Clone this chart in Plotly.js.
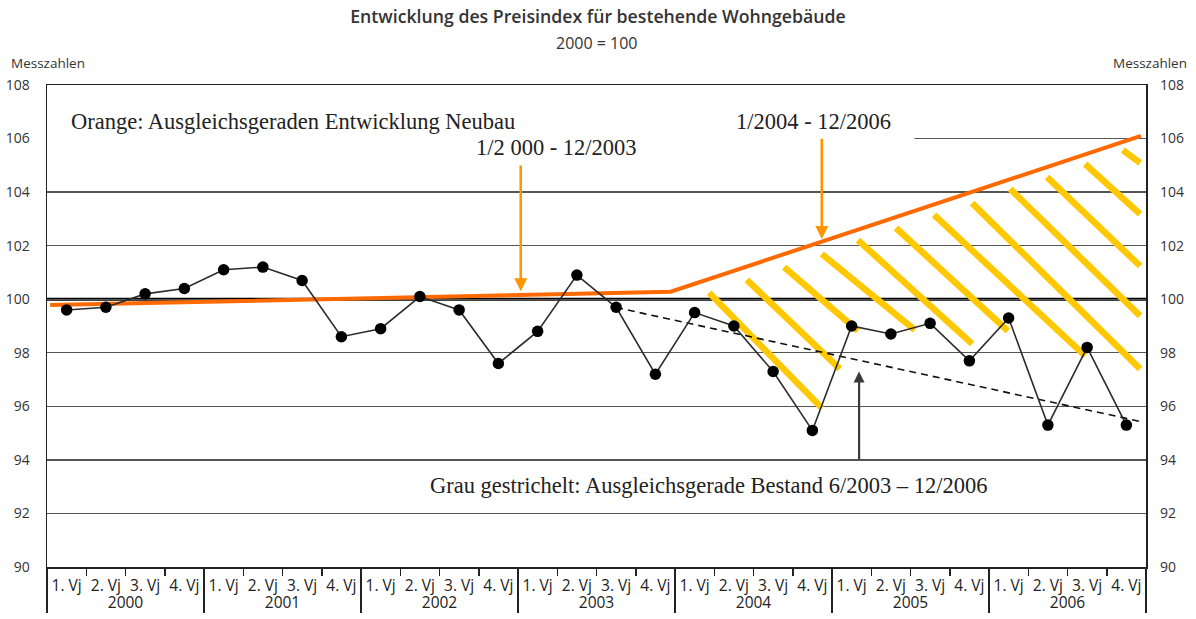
<!DOCTYPE html>
<html>
<head>
<meta charset="utf-8">
<script src="https://cdn.plot.ly/plotly-3.0.1.min.js"></script>
<style>html,body{margin:0;padding:0;background:#fff;}#chart{width:1196px;height:619px;}</style>
</head>
<body>
<div id="chart"></div>
<script>
// ---- data ----
var years = ['2000','2001','2002','2003','2004','2005','2006'];
var quarters = ['1. Vj','2. Vj','3. Vj','4. Vj'];
var preisindex = [
  99.6, 99.7, 100.2, 100.4,
  101.1, 101.2, 100.7, 98.6,
  98.9, 100.1, 99.6, 97.6,
  98.8, 100.9, 99.7, 97.2,
  99.5, 99.0, 97.3, 95.1,
  99.0, 98.7, 99.1, 97.7,
  99.3, 95.3, 98.2, 95.3
];
// orange trend (Neubau), positions in quarter index units
var neubauX = [-0.42, 15.39, 27.37];
var neubauY = [99.78, 100.28, 106.1];
// grey dashed trend (Bestand)
var bestandX = [14, 27.37];
var bestandY = [99.69, 95.43];
// yellow hatch strokes: start (x0,y0) -> end (x1,y1)
var hatchX0 = [16.37, 17.33, 18.28, 19.24, 20.16, 21.13, 22.10, 23.07, 24.04, 24.98, 25.95, 26.91];
var hatchY0 = [100.24, 100.72, 101.20, 101.69, 102.21, 102.66, 103.15, 103.59, 104.12, 104.56, 105.05, 105.57];
var hatchX1 = [19.24, 19.70, 20.16, 21.61, 23.07, 23.98, 25.95, 27.35, 27.35, 27.35, 27.35, 27.35];
var hatchY1 = [95.94, 97.40, 98.82, 98.85, 98.33, 98.82, 97.88, 97.40, 99.38, 101.24, 103.18, 105.09];
var yTicks = [90, 92, 94, 96, 98, 100, 102, 104, 106, 108];

// ---- derived ----
var outer = [], inner = [], pos = [];
years.forEach(function (y, yi) {
  quarters.forEach(function (q, qi) {
    outer.push(y); inner.push(q); pos.push(yi * quarters.length + qi);
  });
});
var hx = [], hy = [];
for (var i = 0; i < hatchX0.length; i++) {
  hx.push(hatchX0[i], hatchX1[i], null);
  hy.push(hatchY0[i], hatchY1[i], null);
}
var xr = [-0.5, pos.length - 0.5];
var yr = [yTicks[0], yTicks[yTicks.length - 1]];

var traces = [
  {x: hx, y: hy, mode: 'lines', line: {color: '#FFC800', width: 6.5}, hoverinfo: 'skip', showlegend: false},
  {x: neubauX, y: neubauY, mode: 'lines', line: {color: '#FF6A00', width: 4}, hoverinfo: 'skip', showlegend: false},
  {x: bestandX, y: bestandY, mode: 'lines', line: {color: '#111', width: 1.6, dash: '7px,5px'}, hoverinfo: 'skip', showlegend: false},
  {x: pos, y: preisindex, mode: 'lines+markers', line: {color: '#2b2b2b', width: 1.6},
   marker: {color: '#000', size: 11.5}, showlegend: false},
  // category axis carrier (labels + right axis)
  {x: [outer, inner], y: preisindex, xaxis: 'x2', yaxis: 'y2', mode: 'markers',
   marker: {opacity: 0}, hoverinfo: 'skip', showlegend: false}
];

var sans = 'Open Sans, sans-serif';
var tickFont = {family: sans, size: 14, color: '#333'};
var serif = {family: 'Liberation Serif, serif', size: 22.5, color: '#222'};

var layout = {
  width: 1196, height: 619,
  margin: {l: 47, r: 50, t: 85, b: 52},
  paper_bgcolor: '#fff', plot_bgcolor: '#fff',
  title: {text: 'Entwicklung des Preisindex für bestehende Wohngebäude',
          font: {family: sans, size: 17.7, color: '#333', weight: 600},
          x: 0.5, xanchor: 'center', y: 1 - 17 / 619, yanchor: 'middle', yref: 'container'},
  xaxis: {type: 'linear', range: xr, showticklabels: false, ticks: '', showgrid: false, zeroline: false,
          showline: true, mirror: true, linecolor: '#222', linewidth: 1.5, fixedrange: true},
  yaxis: {range: yr, tickvals: yTicks, showgrid: true, gridcolor: '#555', gridwidth: 1.3,
          zeroline: false, showline: true, mirror: true, linecolor: '#222', linewidth: 1.5,
          ticks: '', ticklabelstandoff: 13, tickfont: tickFont, fixedrange: true},
  xaxis2: {type: 'multicategory', overlaying: 'x', anchor: 'y2', range: xr, side: 'bottom',
           showgrid: false, zeroline: false, showline: false, tickangle: 0,
           ticks: 'outside', ticklen: 8, tickwidth: 1.5, tickcolor: '#222', ticklabelstandoff: 7,
           showdividers: true, dividercolor: '#222', dividerwidth: 1.5,
           tickfont: {family: sans, size: 15.5, color: '#222'}, fixedrange: true},
  yaxis2: {range: yr, tickvals: yTicks, overlaying: 'y', side: 'right', showgrid: false, zeroline: false,
           showline: false, ticks: '', ticklabelstandoff: 13, tickfont: tickFont, fixedrange: true},
  shapes: [
    {type: 'rect', xref: 'x', yref: 'y', x0: xr[0], x1: 21.6, y0: 105.7, y1: 106.3,
     fillcolor: '#fff', line: {width: 0}, layer: 'between'},
    {type: 'line', xref: 'paper', yref: 'y', x0: 0, x1: 1, y0: 100, y1: 100,
     line: {color: '#000', width: 3}, layer: 'between'}
  ],
  annotations: [
    {xref: 'paper', yref: 'paper', x: 0.5, y: (567 - 43) / 482, text: '2000 = 100', showarrow: false,
     xanchor: 'center', yanchor: 'middle', font: {family: sans, size: 16, color: '#333'}},
    {xref: 'paper', yref: 'paper', x: (9 - 47) / 1099, y: (567 - 63) / 482, text: 'Messzahlen', showarrow: false,
     xanchor: 'left', yanchor: 'middle', font: {family: sans, size: 13.5, color: '#333'}},
    {xref: 'paper', yref: 'paper', x: (1189 - 47) / 1099, y: (567 - 63) / 482, text: 'Messzahlen', showarrow: false,
     xanchor: 'right', yanchor: 'middle', font: {family: sans, size: 13.5, color: '#333'}},
    {xref: 'x', yref: 'y', x: 0.07, y: 106.65, text: 'Orange: Ausgleichsgeraden Entwicklung Neubau',
     showarrow: false, xanchor: 'left', yanchor: 'middle', font: serif},
    {xref: 'x', yref: 'y', x: 12.47, y: 105.65, text: '1/2 000 - 12/2003',
     showarrow: false, xanchor: 'center', yanchor: 'middle', font: serif},
    {xref: 'x', yref: 'y', x: 19.02, y: 106.65, text: '1/2004 - 12/2006',
     showarrow: false, xanchor: 'center', yanchor: 'middle', font: serif},
    {xref: 'x', yref: 'y', x: 9.2, y: 93.03, text: 'Grau gestrichelt: Ausgleichsgerade Bestand 6/2003 – 12/2006',
     showarrow: false, xanchor: 'left', yanchor: 'middle', font: serif},
    {xref: 'x', yref: 'y', x: 11.57, y: 100.3, axref: 'x', ayref: 'y', ax: 11.57, ay: 105.05, text: '',
     showarrow: true, arrowhead: 2, arrowsize: 1, arrowwidth: 2.6, arrowcolor: '#FF9500'},
    {xref: 'x', yref: 'y', x: 19.24, y: 102.25, axref: 'x', ayref: 'y', ax: 19.24, ay: 106.05, text: '',
     showarrow: true, arrowhead: 2, arrowsize: 1, arrowwidth: 2.6, arrowcolor: '#FF9500'},
    {xref: 'x', yref: 'y', x: 20.19, y: 97.3, axref: 'x', ayref: 'y', ax: 20.19, ay: 93.97, text: '',
     showarrow: true, arrowhead: 2, arrowsize: 1, arrowwidth: 2.2, arrowcolor: '#3a3a3a'}
  ]
};

Plotly.newPlot('chart', traces, layout, {displayModeBar: false, staticPlot: true});
</script>
</body>
</html>
